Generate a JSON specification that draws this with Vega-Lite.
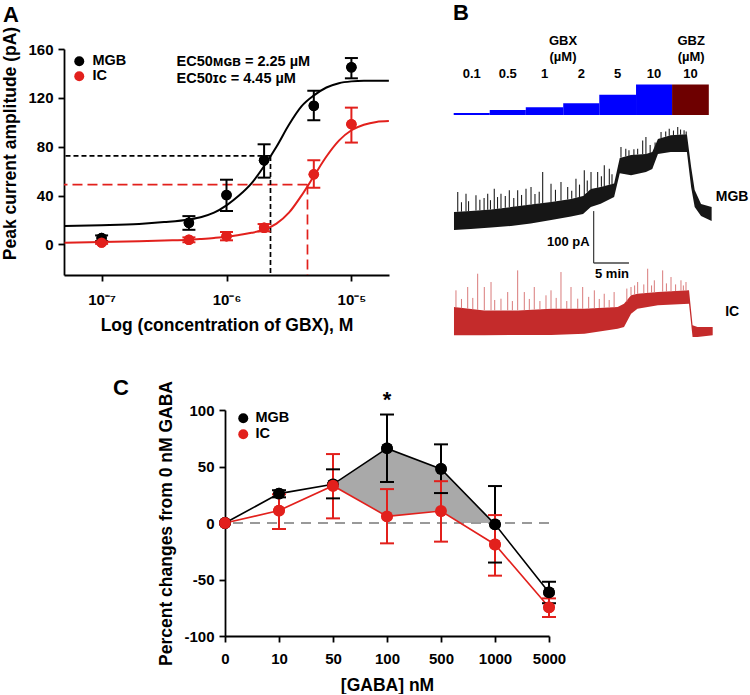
{
  "$schema": "https://vega.github.io/schema/vega-lite/v6.json",
  "background": "white",
  "padding": {"left": 0, "top": 2, "right": 0, "bottom": 0},
  "spacing": 361,
  "bounds": "flush",
  "resolve": {"scale": {"color": "independent"}, "legend": {"color": "independent"}},
  "config": {
    "view": {"stroke": null},
    "font": "Liberation Sans",
    "axis": {
      "labelFont": "Liberation Sans", "labelFontWeight": "bold", "labelFontSize": 15, "labelColor": "#000",
      "titleFont": "Liberation Sans", "titleFontWeight": "bold", "titleFontSize": 17.5, "titleColor": "#000",
      "domainColor": "#000", "domainWidth": 1.8, "tickColor": "#000", "tickWidth": 1.8, "tickSize": 6,
      "grid": false, "labelFlush": false, "labelOverlap": false
    },
    "title": {"font": "Liberation Sans", "fontSize": 22, "fontWeight": "bold", "color": "#000", "anchor": "start", "frame": "group"},
    "text": {"font": "Liberation Sans", "fontWeight": "bold", "color": "#000"}
  },
  "datasets": {
    "fitA": [
      {"region":"MGB","conc":5.05e-8,"amp":15.2},{"region":"MGB","conc":1e-7,"amp":15.8},{"region":"MGB","conc":1.995e-7,"amp":16.8},
      {"region":"MGB","conc":3.162e-7,"amp":18.3},{"region":"MGB","conc":5.012e-7,"amp":20.5},{"region":"MGB","conc":6.31e-7,"amp":22.5},
      {"region":"MGB","conc":7.943e-7,"amp":26},{"region":"MGB","conc":1e-6,"amp":32},{"region":"MGB","conc":1.259e-6,"amp":40},
      {"region":"MGB","conc":1.585e-6,"amp":50},{"region":"MGB","conc":1.995e-6,"amp":64},{"region":"MGB","conc":2.512e-6,"amp":80},
      {"region":"MGB","conc":3.162e-6,"amp":98},{"region":"MGB","conc":3.981e-6,"amp":113},{"region":"MGB","conc":5.012e-6,"amp":122},
      {"region":"MGB","conc":6.31e-6,"amp":128.5},{"region":"MGB","conc":7.943e-6,"amp":132},{"region":"MGB","conc":1e-5,"amp":133.5},
      {"region":"MGB","conc":1.259e-5,"amp":134},{"region":"MGB","conc":1.585e-5,"amp":134},{"region":"MGB","conc":1.995e-5,"amp":134},
      {"region":"IC","conc":5.05e-8,"amp":1.5},{"region":"IC","conc":1e-7,"amp":2},{"region":"IC","conc":1.995e-7,"amp":2.6},
      {"region":"IC","conc":3.162e-7,"amp":3.2},{"region":"IC","conc":5.012e-7,"amp":3.8},{"region":"IC","conc":6.31e-7,"amp":4.5},
      {"region":"IC","conc":7.943e-7,"amp":5.3},{"region":"IC","conc":1e-6,"amp":6.3},{"region":"IC","conc":1.259e-6,"amp":7.8},
      {"region":"IC","conc":1.585e-6,"amp":9.5},{"region":"IC","conc":1.995e-6,"amp":12},{"region":"IC","conc":2.512e-6,"amp":17},
      {"region":"IC","conc":3.162e-6,"amp":26},{"region":"IC","conc":3.981e-6,"amp":40},{"region":"IC","conc":5.012e-6,"amp":56},
      {"region":"IC","conc":6.31e-6,"amp":72},{"region":"IC","conc":7.943e-6,"amp":85},{"region":"IC","conc":1e-5,"amp":93.5},
      {"region":"IC","conc":1.259e-5,"amp":98},{"region":"IC","conc":1.585e-5,"amp":100.3},{"region":"IC","conc":1.995e-5,"amp":101}
    ],
    "ptsA": [
      {"region":"MGB","conc":1e-7,"mean":5.2,"lo":2.8,"hi":7.4},
      {"region":"MGB","conc":5e-7,"mean":17.8,"lo":12,"hi":23.2},
      {"region":"MGB","conc":1e-6,"mean":40.5,"lo":27.4,"hi":53},
      {"region":"MGB","conc":2e-6,"mean":69,"lo":54.7,"hi":82},
      {"region":"MGB","conc":5e-6,"mean":113.5,"lo":101.7,"hi":125.8},
      {"region":"MGB","conc":1e-5,"mean":145,"lo":136,"hi":152.6},
      {"region":"IC","conc":1e-7,"mean":1.5,"lo":0.5,"hi":2.5},
      {"region":"IC","conc":5e-7,"mean":3.8,"lo":1.8,"hi":5.8},
      {"region":"IC","conc":1e-6,"mean":6.8,"lo":3.4,"hi":10.2},
      {"region":"IC","conc":2e-6,"mean":13.7,"lo":10.7,"hi":16.7},
      {"region":"IC","conc":5e-6,"mean":57.4,"lo":46.5,"hi":69},
      {"region":"IC","conc":1e-5,"mean":98.5,"lo":83.4,"hi":112}
    ],
    "ecA": [
      {"region":"MGB","ec50":2.25e-6,"half":72.5},
      {"region":"IC","ec50":4.45e-6,"half":49}
    ],
    "stim": [
      {"drug":"GBX","conc":0.1,"start":0.1,"end":5.2,"mid":2.65,"label":"0.1"},
      {"drug":"GBX","conc":0.5,"start":5.2,"end":10.3,"mid":7.75,"label":"0.5"},
      {"drug":"GBX","conc":1,"start":10.3,"end":15.6,"mid":12.95,"label":"1"},
      {"drug":"GBX","conc":2,"start":15.6,"end":20.7,"mid":18.15,"label":"2"},
      {"drug":"GBX","conc":5,"start":20.7,"end":25.9,"mid":23.3,"label":"5"},
      {"drug":"GBX","conc":10,"start":25.9,"end":31.0,"mid":28.45,"label":"10"},
      {"drug":"GBZ","conc":10,"start":31.0,"end":36.2,"mid":33.6,"label":"10"}
    ],
    "drugs": [
      {"drug":"GBX","t":15.57},
      {"drug":"GBZ","t":33.7}
    ],
    "scalebar": [
      {"t0":19.9,"t1":24.9,"i0":-67,"i1":33}
    ],
    "mgbBand": [
      {"t":0.14,"lo":-3.5,"hi":31},{"t":2.5,"lo":-1.5,"hi":33},{"t":5.4,"lo":1.3,"hi":36},{"t":8.2,"lo":4.2,"hi":40.8},
      {"t":11,"lo":9,"hi":45.6},{"t":13.9,"lo":15.8,"hi":50.4},{"t":16.7,"lo":22.5,"hi":56.2},{"t":18.4,"lo":27.3,"hi":62},
      {"t":19.5,"lo":41,"hi":75.5},{"t":20.9,"lo":47,"hi":79.3},{"t":22.8,"lo":60,"hi":86},{"t":23.6,"lo":106,"hi":135},
      {"t":25.2,"lo":102,"hi":141},{"t":27.3,"lo":108,"hi":143},{"t":28.2,"lo":114,"hi":146.7},{"t":29.0,"lo":143,"hi":171.7},
      {"t":30.8,"lo":146.7,"hi":179},{"t":33.1,"lo":146.7,"hi":181},{"t":33.7,"lo":79,"hi":118},{"t":34.2,"lo":41,"hi":73.5},
      {"t":35.1,"lo":23.5,"hi":46.6},{"t":36.6,"lo":14,"hi":41}
    ],
    "mgbSpk": [
      {"t":0.67,"b":31.5,"top":69.7},{"t":1.84,"b":32.5,"top":66.4},{"t":3.25,"b":34,"top":63.3},{"t":4.91,"b":35.5,"top":66.4},
      {"t":5.84,"b":36.5,"top":76},{"t":6.79,"b":38.5,"top":66.4},{"t":7.97,"b":40.5,"top":73},{"t":9.15,"b":42,"top":73},
      {"t":10.33,"b":44.5,"top":76},{"t":11.04,"b":45.6,"top":79.3},{"t":12.69,"b":48.4,"top":108},{"t":13.87,"b":50.4,"top":85.7},
      {"t":15.28,"b":53.5,"top":89},{"t":16.23,"b":55.2,"top":79.3},{"t":17.4,"b":58.5,"top":95.3},{"t":18.58,"b":64,"top":111.5},
      {"t":19.53,"b":75.5,"top":108},{"t":20.47,"b":78,"top":108},{"t":21.41,"b":81,"top":121},{"t":22.12,"b":83.5,"top":114.5},
      {"t":23.77,"b":136,"top":156.3},{"t":24.45,"b":138,"top":153},{"t":26.13,"b":142,"top":153},{"t":26.84,"b":142.5,"top":169},
      {"t":27.3,"b":143,"top":175.5},{"t":29.44,"b":173,"top":185},{"t":30.6,"b":178,"top":191.5},{"t":31.8,"b":180,"top":194.8},
      {"t":32.7,"b":180.5,"top":188.4},
      {"t":1.2,"b":32,"top":50},{"t":2.2,"b":33,"top":52},{"t":3.8,"b":34.5,"top":55},{"t":4.4,"b":35,"top":58},
      {"t":5.3,"b":36,"top":54},{"t":6.3,"b":37.5,"top":60},{"t":7.4,"b":39.5,"top":62},{"t":8.6,"b":41,"top":58},
      {"t":9.7,"b":43,"top":64},{"t":11.6,"b":46.5,"top":66},{"t":12.2,"b":47.5,"top":70},{"t":14.5,"b":51.5,"top":74},
      {"t":16.8,"b":56.5,"top":72},{"t":17.9,"b":60,"top":84},{"t":19,"b":70,"top":92},{"t":21,"b":80,"top":100},
      {"t":22.5,"b":84.5,"top":104},{"t":24.9,"b":139,"top":150},{"t":25.6,"b":140,"top":152},{"t":27.9,"b":145,"top":160},
      {"t":28.6,"b":150,"top":165},{"t":30.1,"b":176,"top":186},{"t":31.2,"b":179,"top":188},{"t":32.2,"b":180,"top":190},
      {"t":33.0,"b":180.5,"top":186}
    ],
    "icBand": [
      {"t":0.14,"lo":0,"hi":54.5},{"t":4.43,"lo":0,"hi":48},{"t":9.2,"lo":0.6,"hi":48},{"t":13.9,"lo":0.6,"hi":51},
      {"t":18.6,"lo":3,"hi":51},{"t":23.3,"lo":12.7,"hi":54.5},{"t":24.2,"lo":16,"hi":60.8},{"t":25.2,"lo":41.6,"hi":77},
      {"t":26.1,"lo":51.2,"hi":80},{"t":29.0,"lo":57.7,"hi":83.3},{"t":33.4,"lo":60.8,"hi":86.6},{"t":33.9,"lo":-3.3,"hi":19.2},
      {"t":34.6,"lo":-3.3,"hi":16},{"t":36.75,"lo":0,"hi":16}
    ],
    "icSpk": [
      {"t":0.42,"b":54,"top":86.6},{"t":2.08,"b":51,"top":93},{"t":3.49,"b":49,"top":118.6},{"t":4.43,"b":48,"top":93},
      {"t":5.38,"b":48,"top":102.6},{"t":6.79,"b":48,"top":70.5},{"t":7.74,"b":48,"top":83.3},{"t":9.15,"b":48,"top":125},
      {"t":10.09,"b":48.5,"top":83.3},{"t":11.5,"b":49.5,"top":93},{"t":13.16,"b":50.5,"top":77},{"t":13.87,"b":51,"top":86.6},
      {"t":15.28,"b":51,"top":121.8},{"t":16.7,"b":51,"top":93},{"t":17.65,"b":51,"top":70.5},{"t":18.35,"b":51,"top":93},
      {"t":20,"b":52,"top":86.6},{"t":21.4,"b":53,"top":80},{"t":22.8,"b":54,"top":83.3},{"t":25.19,"b":77,"top":93},
      {"t":26.13,"b":80,"top":102.6},{"t":27.55,"b":81.5,"top":128.2},{"t":28.49,"b":82.5,"top":105.9},{"t":29.67,"b":84,"top":125},
      {"t":30.85,"b":84.5,"top":112.2},{"t":32.26,"b":86,"top":105.9},{"t":32.97,"b":86.5,"top":102.6},
      {"t":1.2,"b":52,"top":70},{"t":2.8,"b":50,"top":72},{"t":5.9,"b":48,"top":68},{"t":8.4,"b":48,"top":66},
      {"t":10.8,"b":49,"top":70},{"t":12.3,"b":50,"top":66},{"t":14.6,"b":51,"top":72},{"t":16.1,"b":51,"top":66},
      {"t":19.2,"b":51.5,"top":74},{"t":20.7,"b":52.5,"top":70},{"t":22.1,"b":53.5,"top":68},{"t":24.6,"b":65,"top":90},
      {"t":25.7,"b":78,"top":96},{"t":27,"b":81,"top":98},{"t":28.1,"b":82,"top":96},{"t":30.2,"b":84,"top":100},
      {"t":31.5,"b":85,"top":98},{"t":32.6,"b":86,"top":96}
    ],
    "dataC": [
      {"region":"MGB","idx":0,"gaba":"0","mean":0,"lo":null,"hi":null,"sig":""},
      {"region":"MGB","idx":1,"gaba":"10","mean":26,"lo":22.7,"hi":29,"sig":""},
      {"region":"MGB","idx":2,"gaba":"50","mean":34.2,"lo":21.8,"hi":47.5,"sig":""},
      {"region":"MGB","idx":3,"gaba":"100","mean":66,"lo":36.3,"hi":96,"sig":"*"},
      {"region":"MGB","idx":4,"gaba":"500","mean":47.8,"lo":26.5,"hi":69.6,"sig":""},
      {"region":"MGB","idx":5,"gaba":"1000","mean":-1.2,"lo":-35,"hi":32.7,"sig":""},
      {"region":"MGB","idx":6,"gaba":"5000","mean":-61.4,"lo":-71,"hi":-52,"sig":""},
      {"region":"IC","idx":0,"gaba":"0","mean":0,"lo":null,"hi":null,"sig":""},
      {"region":"IC","idx":1,"gaba":"10","mean":11,"lo":-5.3,"hi":25.4,"sig":""},
      {"region":"IC","idx":2,"gaba":"50","mean":33,"lo":4.1,"hi":61,"sig":""},
      {"region":"IC","idx":3,"gaba":"100","mean":5.9,"lo":-18,"hi":30,"sig":""},
      {"region":"IC","idx":4,"gaba":"500","mean":10.6,"lo":-16.5,"hi":37,"sig":""},
      {"region":"IC","idx":5,"gaba":"1000","mean":-19,"lo":-46.6,"hi":7,"sig":""},
      {"region":"IC","idx":6,"gaba":"5000","mean":-74.6,"lo":-83.2,"hi":-66.7,"sig":""}
    ],
    "shadeC": [
      {"idx":2,"upper":34.2,"lower":33},
      {"idx":3,"upper":66,"lower":5.9},
      {"idx":4,"upper":47.8,"lower":10.6},
      {"idx":4.358,"upper":30.3,"lower":0},
      {"idx":4.976,"upper":0,"lower":0}
    ]
  },
  "vconcat": [
    {
      "spacing": 64,
      "bounds": "flush",
      "resolve": {"scale": {"color": "independent"}, "legend": {"color": "independent"}},
      "hconcat": [
        {
          "width": 325, "height": 226,
          "title": {"text": "A", "dx": -61, "dy": 13, "offset": 12},
          "layer": [
            {
              "data": {"name": "ptsA"},
              "mark": {"type": "point", "filled": true, "size": 110, "opacity": 1},
              "encoding": {
                "x": {"field": "conc", "type": "quantitative", "scale": {"type": "log", "domain": [5e-8, 2e-5], "nice": false},
                      "axis": {"values": [1e-7, 1e-6, 1e-5], "labelExpr": "datum.value < 5e-7 ? '10⁻⁷' : (datum.value < 5e-6 ? '10⁻⁶' : '10⁻⁵')",
                               "title": "Log (concentration of GBX), M", "labelPadding": 11, "titleX": 162.5, "titleY": 50, "titleBaseline": "middle"}},
                "y": {"field": "mean", "type": "quantitative", "scale": {"domain": [-25, 160], "nice": false, "zero": false},
                      "axis": {"values": [0, 40, 80, 120, 160], "title": "Peak current amplitude (pA)", "labelPadding": 5, "titleX": -45, "titleY": 94}},
                "color": {"field": "region", "type": "nominal", "scale": {"domain": ["MGB", "IC"], "range": ["#000000", "#E2201C"]},
                          "legend": {"orient": "none", "legendX": 8, "legendY": 5, "title": null, "symbolType": "circle", "symbolSize": 100,
                                     "symbolStrokeWidth": 0, "labelFont": "Liberation Sans", "labelFontSize": 14.5, "labelFontWeight": "bold",
                                     "labelColor": "#000", "labelOffset": 6, "rowPadding": 0, "padding": 0}}
              }
            },
            {
              "data": {"name": "fitA"},
              "mark": {"type": "line", "strokeWidth": 2, "interpolate": "monotone"},
              "encoding": {
                "x": {"field": "conc", "type": "quantitative"},
                "y": {"field": "amp", "type": "quantitative"},
                "color": {"field": "region", "type": "nominal"}
              }
            },
            {
              "data": {"name": "ecA"},
              "mark": {"type": "rule", "strokeWidth": 1.7},
              "encoding": {
                "x": {"field": "ec50", "type": "quantitative"},
                "x2": {"datum": 5e-8},
                "y": {"field": "half", "type": "quantitative"},
                "color": {"field": "region", "type": "nominal"},
                "strokeDash": {"field": "region", "type": "nominal", "scale": {"domain": ["MGB", "IC"], "range": [[5, 3], [10, 5]]}, "legend": null}
              }
            },
            {
              "data": {"name": "ecA"},
              "mark": {"type": "rule", "strokeWidth": 1.7},
              "encoding": {
                "x": {"field": "ec50", "type": "quantitative"},
                "y": {"field": "half", "type": "quantitative"},
                "y2": {"datum": -25},
                "color": {"field": "region", "type": "nominal"},
                "strokeDash": {"field": "region", "type": "nominal", "legend": null}
              }
            },
            {
              "data": {"name": "ptsA"},
              "mark": {"type": "rule", "strokeWidth": 2},
              "encoding": {
                "x": {"field": "conc", "type": "quantitative"},
                "y": {"field": "lo", "type": "quantitative"},
                "y2": {"field": "hi"},
                "color": {"field": "region", "type": "nominal"}
              }
            },
            {
              "data": {"name": "ptsA"},
              "mark": {"type": "tick", "orient": "horizontal", "size": 13, "thickness": 2, "opacity": 1},
              "encoding": {
                "x": {"field": "conc", "type": "quantitative"},
                "y": {"field": "lo", "type": "quantitative"},
                "color": {"field": "region", "type": "nominal"}
              }
            },
            {
              "data": {"name": "ptsA"},
              "mark": {"type": "tick", "orient": "horizontal", "size": 13, "thickness": 2, "opacity": 1},
              "encoding": {
                "x": {"field": "conc", "type": "quantitative"},
                "y": {"field": "hi", "type": "quantitative"},
                "color": {"field": "region", "type": "nominal"}
              }
            },
            {
              "data": {"name": "ptsA"},
              "mark": {"type": "point", "filled": true, "size": 110, "opacity": 1},
              "encoding": {
                "x": {"field": "conc", "type": "quantitative"},
                "y": {"field": "mean", "type": "quantitative"},
                "color": {"field": "region", "type": "nominal"}
              }
            },
            {
              "data": {"values": [{}]},
              "mark": {"type": "text", "text": "EC50ᴍɢʙ = 2.25 µM", "align": "left", "baseline": "middle", "fontSize": 14.5},
              "encoding": {
                "x": {"datum": 3.98e-7, "type": "quantitative"},
                "y": {"datum": 149.4, "type": "quantitative"}
              }
            },
            {
              "data": {"values": [{}]},
              "mark": {"type": "text", "text": "EC50ɪᴄ = 4.45 µM", "align": "left", "baseline": "middle", "fontSize": 14.5},
              "encoding": {
                "x": {"datum": 3.98e-7, "type": "quantitative"},
                "y": {"datum": 135.4, "type": "quantitative"}
              }
            }
          ]
        },
        {
          "width": 265, "height": 295,
          "title": {"text": "B", "dx": 0, "dy": -1.5, "offset": 8},
          "resolve": {"scale": {"y": "independent"}},
          "layer": [
            {
              "layer": [
                {
                  "data": {"name": "stim"},
                  "mark": {"type": "rect"},
                  "encoding": {
                    "x": {"field": "start", "type": "quantitative", "scale": {"domain": [0, 37.5], "nice": false, "zero": false}, "axis": null},
                    "x2": {"field": "end"},
                    "y": {"field": "conc", "type": "quantitative", "scale": {"type": "pow", "exponent": 0.6, "domain": [-286.4, 36], "nice": false, "zero": false}, "axis": null},
                    "y2": {"datum": 0},
                    "color": {"field": "drug", "type": "nominal", "scale": {"domain": ["GBX", "GBZ"], "range": ["#0000FF", "#6E0000"]}, "legend": null}
                  }
                },
                {
                  "data": {"name": "stim"},
                  "mark": {"type": "text", "dy": -41, "fontSize": 13, "baseline": "middle"},
                  "encoding": {
                    "x": {"field": "mid", "type": "quantitative", "axis": null},
                    "y": {"datum": 0, "type": "quantitative", "axis": null},
                    "text": {"field": "label", "type": "nominal"}
                  }
                },
                {
                  "data": {"name": "drugs"},
                  "mark": {"type": "text", "dy": -74, "fontSize": 13, "baseline": "middle"},
                  "encoding": {
                    "x": {"field": "t", "type": "quantitative", "axis": null},
                    "y": {"datum": 0, "type": "quantitative", "axis": null},
                    "text": {"field": "drug", "type": "nominal"}
                  }
                },
                {
                  "data": {"name": "drugs"},
                  "mark": {"type": "text", "dy": -58, "fontSize": 13, "baseline": "middle", "text": "(µM)"},
                  "encoding": {
                    "x": {"field": "t", "type": "quantitative", "axis": null},
                    "y": {"datum": 0, "type": "quantitative", "axis": null}
                  }
                }
              ]
            },
            {
              "layer": [
                {
                  "data": {"name": "mgbBand"},
                  "mark": {"type": "area", "color": "#161616", "opacity": 1},
                  "encoding": {
                    "x": {"field": "t", "type": "quantitative", "axis": null},
                    "y": {"field": "lo", "type": "quantitative", "scale": {"domain": [-222.9, 345], "nice": false, "zero": false}, "axis": null},
                    "y2": {"field": "hi"}
                  }
                },
                {
                  "data": {"name": "mgbSpk"},
                  "mark": {"type": "rule", "color": "#1E1E1E", "strokeWidth": 1.1},
                  "encoding": {
                    "x": {"field": "t", "type": "quantitative", "axis": null},
                    "y": {"field": "b", "type": "quantitative", "axis": null},
                    "y2": {"field": "top"}
                  }
                },
                {
                  "data": {"name": "scalebar"},
                  "mark": {"type": "rule", "color": "#444444", "strokeWidth": 1.3},
                  "encoding": {
                    "x": {"field": "t0", "type": "quantitative", "axis": null},
                    "y": {"field": "i0", "type": "quantitative", "axis": null},
                    "y2": {"field": "i1"}
                  }
                },
                {
                  "data": {"name": "scalebar"},
                  "mark": {"type": "rule", "color": "#444444", "strokeWidth": 1.3},
                  "encoding": {
                    "x": {"field": "t0", "type": "quantitative", "axis": null},
                    "x2": {"field": "t1"},
                    "y": {"field": "i0", "type": "quantitative", "axis": null}
                  }
                },
                {
                  "data": {"values": [{}]},
                  "mark": {"type": "text", "text": "100 pA", "align": "right", "baseline": "middle", "dx": -4, "fontSize": 13},
                  "encoding": {
                    "x": {"datum": 19.9, "type": "quantitative", "axis": null},
                    "y": {"datum": -26.6, "type": "quantitative", "axis": null}
                  }
                },
                {
                  "data": {"values": [{}]},
                  "mark": {"type": "text", "text": "5 min", "align": "center", "baseline": "middle", "fontSize": 13},
                  "encoding": {
                    "x": {"datum": 22.5, "type": "quantitative", "axis": null},
                    "y": {"datum": -88.3, "type": "quantitative", "axis": null}
                  }
                },
                {
                  "data": {"values": [{}]},
                  "mark": {"type": "text", "text": "MGB", "align": "center", "baseline": "middle", "fontSize": 14},
                  "encoding": {
                    "x": {"datum": 39.5, "type": "quantitative", "axis": null},
                    "y": {"datum": 60, "type": "quantitative", "axis": null}
                  }
                }
              ]
            },
            {
              "layer": [
                {
                  "data": {"name": "icBand"},
                  "mark": {"type": "area", "color": "#C42B2B", "opacity": 1},
                  "encoding": {
                    "x": {"field": "t", "type": "quantitative", "axis": null},
                    "y": {"field": "lo", "type": "quantitative", "scale": {"domain": [-16.7, 551.1], "nice": false, "zero": false}, "axis": null},
                    "y2": {"field": "hi"}
                  }
                },
                {
                  "data": {"name": "icSpk"},
                  "mark": {"type": "rule", "color": "#D97B7B", "strokeWidth": 1},
                  "encoding": {
                    "x": {"field": "t", "type": "quantitative", "axis": null},
                    "y": {"field": "b", "type": "quantitative", "axis": null},
                    "y2": {"field": "top"}
                  }
                },
                {
                  "data": {"values": [{}]},
                  "mark": {"type": "text", "text": "IC", "align": "center", "baseline": "middle", "fontSize": 14},
                  "encoding": {
                    "x": {"datum": 39.5, "type": "quantitative", "axis": null},
                    "y": {"datum": 44.9, "type": "quantitative", "axis": null}
                  }
                }
              ]
            }
          ]
        }
      ]
    },
    {
      "spacing": 64,
      "bounds": "flush",
      "resolve": {"scale": {"color": "independent"}, "legend": {"color": "independent"}},
      "hconcat": [
        {
          "width": 97, "height": 10,
          "data": {"values": [{"a": 0}]},
          "mark": {"type": "point", "opacity": 0},
          "encoding": {}
        },
        {
          "width": 324, "height": 226,
          "layer": [
            {
              "data": {"name": "dataC"},
              "mark": {"type": "point", "filled": true, "size": 140, "opacity": 1},
              "encoding": {
                "x": {"field": "idx", "type": "quantitative", "scale": {"domain": [0, 6], "nice": false, "zero": false},
                      "axis": {"values": [0, 1, 2, 3, 4, 5, 6], "labelExpr": "['0','10','50','100','500','1000','5000'][datum.value]",
                               "title": "[GABA] nM", "labelPadding": 9, "titleX": 162, "titleY": 49, "titleBaseline": "middle"}},
                "y": {"field": "mean", "type": "quantitative", "scale": {"domain": [-100, 100], "nice": false, "zero": false},
                      "axis": {"values": [-100, -75, -50, -25, 0, 25, 50, 75, 100], "labelExpr": "'' + datum.value",
                               "title": "Percent changes from 0 nM GABA", "labelPadding": 5, "titleX": -50, "titleY": 113}},
                "color": {"field": "region", "type": "nominal", "scale": {"domain": ["MGB", "IC"], "range": ["#000000", "#E2201C"]},
                          "legend": {"orient": "none", "legendX": 11, "legendY": 1, "title": null, "symbolType": "circle", "symbolSize": 100,
                                     "symbolStrokeWidth": 0, "labelFont": "Liberation Sans", "labelFontSize": 14.5, "labelFontWeight": "bold",
                                     "labelColor": "#000", "labelOffset": 5, "rowPadding": 1, "padding": 0}}
              }
            },
            {
              "data": {"name": "shadeC"},
              "mark": {"type": "area", "color": "#A9A9A9", "opacity": 1},
              "encoding": {
                "x": {"field": "idx", "type": "quantitative"},
                "y": {"field": "upper", "type": "quantitative"},
                "y2": {"field": "lower"}
              }
            },
            {
              "data": {"values": [{}]},
              "mark": {"type": "rule", "color": "#999999", "strokeWidth": 2, "strokeDash": [10, 7]},
              "encoding": {"y": {"datum": 0, "type": "quantitative"}}
            },
            {
              "data": {"name": "dataC"},
              "mark": {"type": "line", "strokeWidth": 1.6},
              "encoding": {
                "x": {"field": "idx", "type": "quantitative"},
                "y": {"field": "mean", "type": "quantitative"},
                "color": {"field": "region", "type": "nominal"}
              }
            },
            {
              "data": {"name": "dataC"},
              "mark": {"type": "rule", "strokeWidth": 2},
              "encoding": {
                "x": {"field": "idx", "type": "quantitative"},
                "y": {"field": "lo", "type": "quantitative"},
                "y2": {"field": "hi"},
                "color": {"field": "region", "type": "nominal"}
              }
            },
            {
              "data": {"name": "dataC"},
              "mark": {"type": "tick", "orient": "horizontal", "size": 14, "thickness": 2, "opacity": 1},
              "encoding": {
                "x": {"field": "idx", "type": "quantitative"},
                "y": {"field": "lo", "type": "quantitative"},
                "color": {"field": "region", "type": "nominal"}
              }
            },
            {
              "data": {"name": "dataC"},
              "mark": {"type": "tick", "orient": "horizontal", "size": 14, "thickness": 2, "opacity": 1},
              "encoding": {
                "x": {"field": "idx", "type": "quantitative"},
                "y": {"field": "hi", "type": "quantitative"},
                "color": {"field": "region", "type": "nominal"}
              }
            },
            {
              "data": {"name": "dataC"},
              "mark": {"type": "point", "filled": true, "size": 140, "opacity": 1},
              "encoding": {
                "x": {"field": "idx", "type": "quantitative"},
                "y": {"field": "mean", "type": "quantitative"},
                "color": {"field": "region", "type": "nominal"}
              }
            },
            {
              "data": {"name": "dataC"},
              "transform": [{"filter": "datum.sig === '*'"}],
              "mark": {"type": "text", "fontSize": 22, "baseline": "alphabetic", "dy": -8},
              "encoding": {
                "x": {"field": "idx", "type": "quantitative"},
                "y": {"field": "hi", "type": "quantitative"},
                "text": {"field": "sig", "type": "nominal"}
              }
            },
            {
              "data": {"values": [{}]},
              "mark": {"type": "text", "text": "C", "align": "left", "baseline": "alphabetic", "fontSize": 22},
              "encoding": {
                "x": {"datum": -2.074, "type": "quantitative"},
                "y": {"datum": 113.3, "type": "quantitative"}
              }
            }
          ]
        }
      ]
    }
  ]
}
